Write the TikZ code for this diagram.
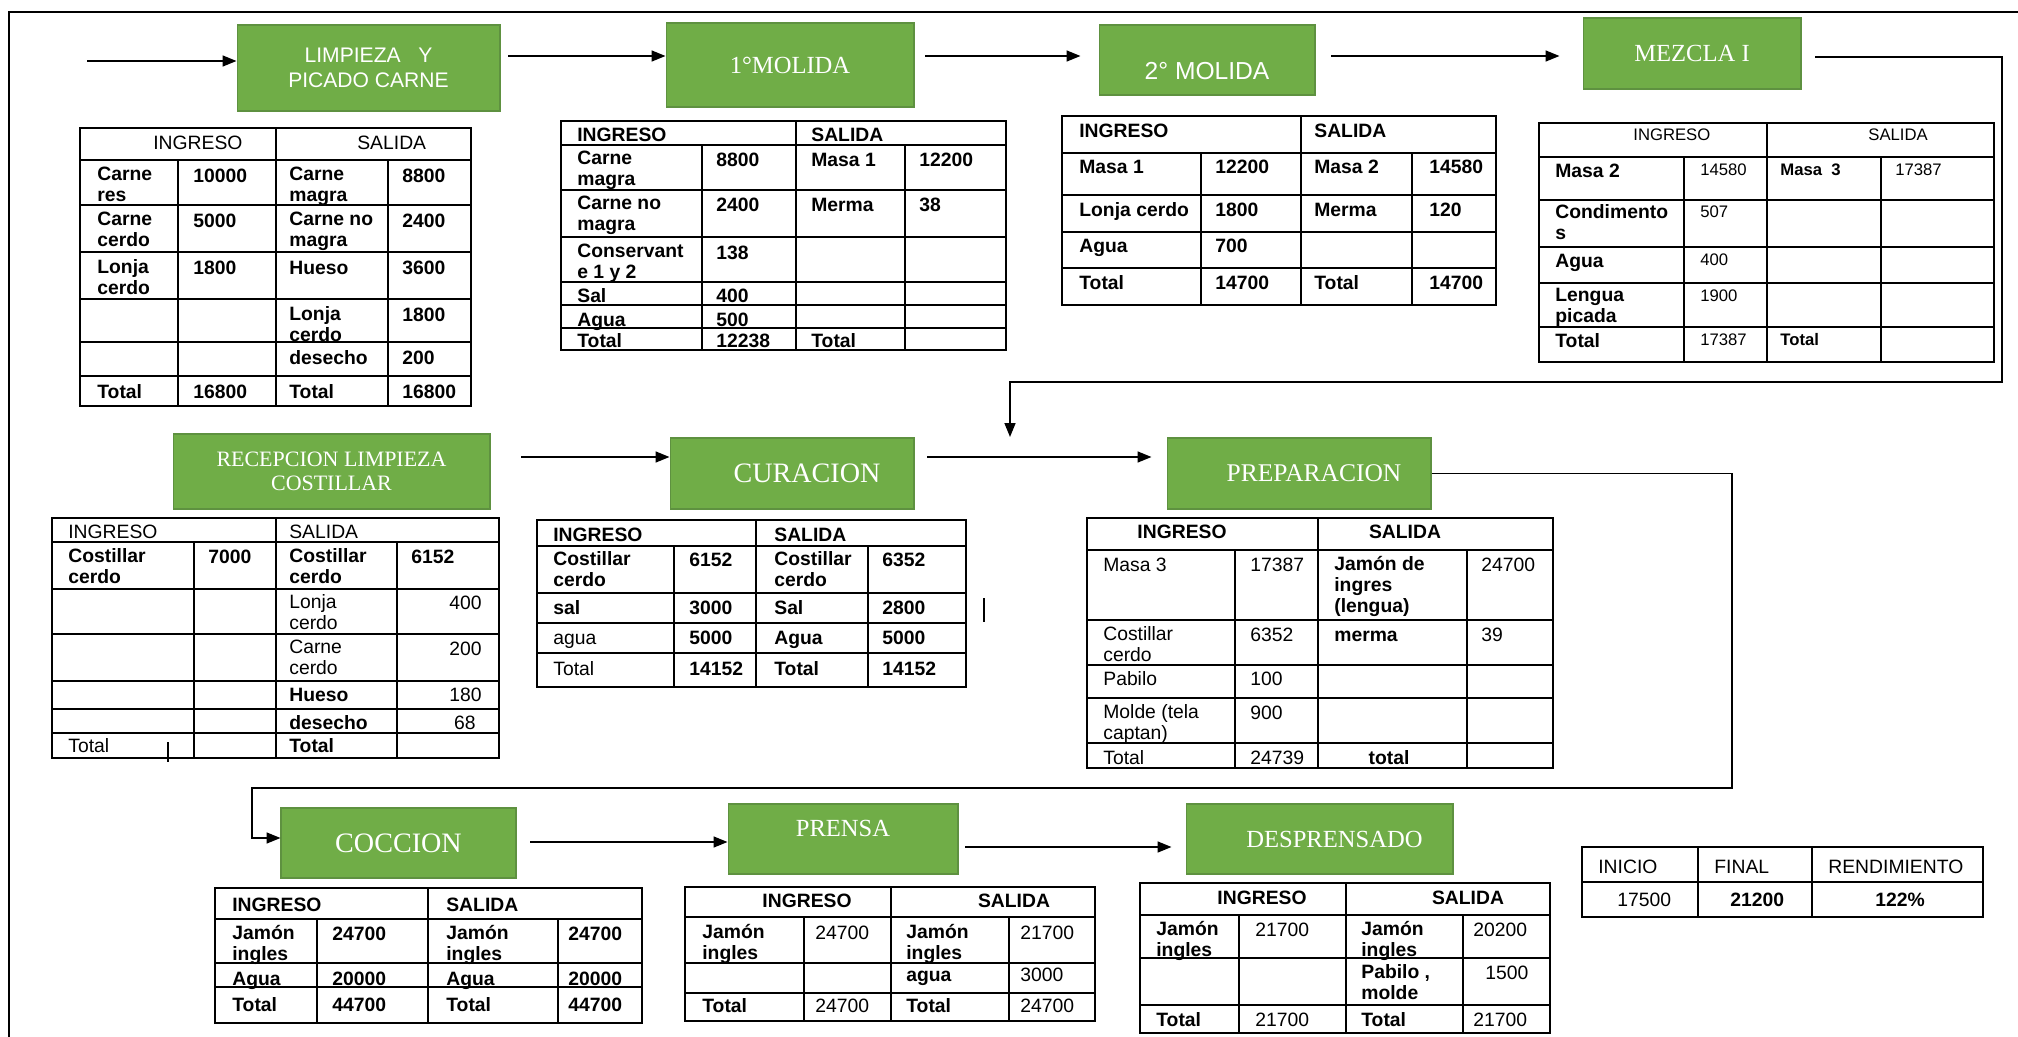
\documentclass[tikz,border=0pt]{standalone}
\usepackage{fontspec}
\setmainfont{Liberation Sans}
\newfontfamily\timesf{Liberation Serif}
\usetikzlibrary{arrows.meta,calc}
\definecolor{stagegreen}{HTML}{70AD47}
\definecolor{stageedge}{HTML}{5E9140}

% balance table: x0..x4 columns, y0 top, y1 header bottom, inner rows, bottom
\newcommand{\iogrid}[9]{%
  \draw[tabline] (#1,#6) rectangle (#5,#9);
  \foreach \yy in {#7,#8} \draw[tabline] (#1,\yy) -- (#5,\yy);
  \draw[tabline] (#3,#6) -- (#3,#9);
  \foreach \xx in {#2,#4} \draw[tabline] (\xx,#7) -- (\xx,#9);
}

\begin{document}
\begin{tikzpicture}[x=0.02cm, y=-0.02cm, >={Triangle[length=0.28cm,width=0.22cm]}]

\tikzstyle{stage}  = [rectangle, draw=stageedge, fill=stagegreen, line width=0.6pt,
                      text=white, inner sep=0pt, align=center]
\tikzstyle{tabline} = [line width=0.9pt]
\tikzstyle{flow}   = [->, line width=0.9pt]
\tikzstyle{txt}    = [anchor=north west, inner sep=0pt, align=left,
                      font=\fontsize{11}{12}\selectfont, execute at begin node=\strut]
\tikzstyle{btx}    = [txt, font=\fontsize{11}{12}\selectfont\bfseries]
\tikzstyle{stx}    = [txt, font=\fontsize{9.5}{11}\selectfont]
\tikzstyle{sbt}    = [txt, font=\fontsize{9.5}{11}\selectfont\bfseries]
\tikzstyle{rtx}    = [txt, anchor=north east]

\fill[white] (0,0) rectangle (2018,1037);
\useasboundingbox (0,0) rectangle (2018,1037);

% ── Frame ─────────────────────────────────────────────
\draw[tabline] (2018,12) -- (9,12) -- (9,1037);

% ── Stages ────────────────────────────────────────────
\node[stage, minimum width=5.26cm, minimum height=1.72cm, font=\fontsize{12}{14.2}\selectfont]
  (limp) at (368.5,68) {LIMPIEZA~~~Y\\PICADO CARNE};
\node[stage, minimum width=4.96cm, minimum height=1.68cm, font=\timesf\fontsize{14}{16}\selectfont]
  (mol1) at (790,65) {1°MOLIDA};
\node[stage, minimum width=4.32cm, minimum height=1.40cm, font=\fontsize{14}{16}\selectfont]
  (mol2) at (1207,60) {\raisebox{-0.22cm}[\height][\depth]{2° MOLIDA}};
\node[stage, minimum width=4.36cm, minimum height=1.42cm, font=\timesf\fontsize{14}{16}\selectfont]
  (mezcla) at (1692,53.5) {MEZCLA I};
\node[stage, minimum width=6.34cm, minimum height=1.50cm, font=\timesf\fontsize{12.5}{13.7}\selectfont]
  (recep) at (331.5,471.5) {RECEPCION LIMPIEZA\\COSTILLAR};
\node[stage, minimum width=4.88cm, minimum height=1.42cm, font=\timesf\fontsize{16}{18}\selectfont]
  (cura) at (792,473.5) {\hspace*{0.6cm}CURACION};
\node[stage, minimum width=5.28cm, minimum height=1.42cm, font=\timesf\fontsize{14.5}{16}\selectfont]
  (prep) at (1299,473.5) {\hspace*{0.6cm}PREPARACION};
\node[stage, minimum width=4.70cm, minimum height=1.40cm, font=\timesf\fontsize{16}{18}\selectfont]
  (cocc) at (398.5,843) {COCCION};
\node[stage, minimum width=4.60cm, minimum height=1.40cm, font=\timesf\fontsize{14}{16}\selectfont]
  (prensa) at (843,839) {\raisebox{0.22cm}[\height][\depth]{PRENSA}};
\node[stage, minimum width=5.34cm, minimum height=1.40cm, font=\timesf\fontsize{14}{16}\selectfont]
  (desp) at (1319.5,839) {\hspace*{0.6cm}DESPRENSADO};

% ── Arrows: first row ─────────────────────────────────
\coordinate (c0) at (87,61);
\coordinate (c1) at (508,56);
\coordinate (c2) at (925,56);
\coordinate (c3) at (1331,56);
\draw[flow] (c0) -- (c0 -| limp.west);
\draw[flow] (c1) -- (c1 -| mol1.west);
\draw[flow] (c2) -- ($(c2 -| mol2.west)+(-18,0)$);
\draw[flow] (c3) -- ($(c3 -| mezcla.west)+(-23,0)$);

% ── Arrows: return to second row ──────────────────────
\coordinate (c4) at (1815,57);
\coordinate (c4e) at (1010,437);
\draw[flow] (c4) -| (2002,382) -| (c4e);
\coordinate (c5) at (521,457);
\coordinate (c6) at (927,457);
\draw[flow] (c5) -- (c5 -| cura.west);
\draw[flow] (c6) -- ($(c6 -| prep.west)+(-15,0)$);

% ── Arrows: third row ─────────────────────────────────
\coordinate (c7) at (252,838);
\coordinate (c8) at (530,842);
\coordinate (c9) at (965,847);
\draw[flow] (prep.east) -| (1732,788) -| (c7) -- (c7 -| cocc.west);
\draw[flow] (c8) -- (c8 -| prensa.west);
\draw[flow] (c9) -- ($(c9 -| desp.west)+(-14,0)$);

% ── Table: limpieza y picado ──────────────────────────
\iogrid{80}{178}{276}{388}{471}{128}{160}{205,252,299,342,376}{406}
\node[txt] (t1h1) at (153,134) {INGRESO};
\node[txt] (t1h2) at (357,134) {SALIDA};
\node[btx] (t1a1) at (97,167)  {Carne\\res};
\node[btx] (t1a2) at (193,167) {10000};
\node[btx] (t1a3) at (289,167) {Carne\\magra};
\node[btx] (t1a4) at (402,167) {8800};
\node[btx] (t1b1) at (97,212)  {Carne\\cerdo};
\node[btx] (t1b2) at (193,212) {5000};
\node[btx] (t1b3) at (289,212) {Carne no\\magra};
\node[btx] (t1b4) at (402,212) {2400};
\node[btx] (t1c1) at (97,259)  {Lonja\\cerdo};
\node[btx] (t1c2) at (193,259) {1800};
\node[btx] (t1c3) at (289,259) {Hueso};
\node[btx] (t1c4) at (402,259) {3600};
\node[btx] (t1d3) at (289,306) {Lonja\\cerdo};
\node[btx] (t1d4) at (402,306) {1800};
\node[btx] (t1e3) at (289,349) {desecho};
\node[btx] (t1e4) at (402,349) {200};
\node[btx] (t1f1) at (97,383)  {Total};
\node[btx] (t1f2) at (193,383) {16800};
\node[btx] (t1f3) at (289,383) {Total};
\node[btx] (t1f4) at (402,383) {16800};

% ── Table: 1° molida ──────────────────────────────────
\iogrid{561}{702}{796}{905}{1006}{121}{145}{190,237,282,305,328}{350}
\node[btx] (t2h1) at (577,126) {INGRESO};
\node[btx] (t2h2) at (811,126) {SALIDA};
\node[btx] (t2a1) at (577,151) {Carne\\magra};
\node[btx] (t2a2) at (716,151) {8800};
\node[btx] (t2a3) at (811,151) {Masa 1};
\node[btx] (t2a4) at (919,151) {12200};
\node[btx] (t2b1) at (577,196) {Carne no\\magra};
\node[btx] (t2b2) at (716,196) {2400};
\node[btx] (t2b3) at (811,196) {Merma};
\node[btx] (t2b4) at (919,196) {38};
\node[btx] (t2c1) at (577,244) {Conservant\\e 1 y 2};
\node[btx] (t2c2) at (716,244) {138};
\node[btx] (t2d1) at (577,287) {Sal};
\node[btx] (t2d2) at (716,287) {400};
\node[btx] (t2e1) at (577,311) {Agua};
\node[btx] (t2e2) at (716,311) {500};
\node[btx] (t2f1) at (577,332) {Total};
\node[btx] (t2f2) at (716,332) {12238};
\node[btx] (t2f3) at (811,332) {Total};

% ── Table: 2° molida ──────────────────────────────────
\iogrid{1062}{1201}{1301}{1412}{1496}{116}{153}{195,232,268}{305}
\node[btx] (t3h1) at (1079,122) {INGRESO};
\node[btx] (t3h2) at (1314,122) {SALIDA};
\node[btx] (t3a1) at (1079,158) {Masa 1};
\node[btx] (t3a2) at (1215,158) {12200};
\node[btx] (t3a3) at (1314,158) {Masa 2};
\node[btx] (t3a4) at (1429,158) {14580};
\node[btx] (t3b1) at (1079,201) {Lonja cerdo};
\node[btx] (t3b2) at (1215,201) {1800};
\node[btx] (t3b3) at (1314,201) {Merma};
\node[btx] (t3b4) at (1429,201) {120};
\node[btx] (t3c1) at (1079,237) {Agua};
\node[btx] (t3c2) at (1215,237) {700};
\node[btx] (t3d1) at (1079,274) {Total};
\node[btx] (t3d2) at (1215,274) {14700};
\node[btx] (t3d3) at (1314,274) {Total};
\node[btx] (t3d4) at (1429,274) {14700};

% ── Table: mezcla I ───────────────────────────────────
\iogrid{1539}{1684}{1767}{1881}{1994}{123}{157}{200,247,283,327}{362}
\node[stx] (t4h1) at (1633,127) {INGRESO};
\node[stx] (t4h2) at (1868,127) {SALIDA};
\node[btx] (t4a1) at (1555,162) {Masa 2};
\node[stx] (t4a2) at (1700,162) {14580};
\node[sbt] (t4a3) at (1780,162) {Masa\ \ 3};
\node[stx] (t4a4) at (1895,162) {17387};
\node[btx] (t4b1) at (1555,204) {Condimento\\s};
\node[stx] (t4b2) at (1700,204) {507};
\node[btx] (t4c1) at (1555,252) {Agua};
\node[stx] (t4c2) at (1700,252) {400};
\node[btx] (t4d1) at (1555,288) {Lengua\\picada};
\node[stx] (t4d2) at (1700,288) {1900};
\node[btx] (t4e1) at (1555,332) {Total};
\node[stx] (t4e2) at (1700,332) {17387};
\node[sbt] (t4e3) at (1780,332) {Total};

% ── Table: recepcion costillar ────────────────────────
\iogrid{52}{194}{276}{397}{499}{518}{542}{589,634,681,709,733}{758}
\node[txt] (t5h1) at (68,523)  {INGRESO};
\node[txt] (t5h2) at (289,523) {SALIDA};
\node[btx] (t5a1) at (68,548)  {Costillar\\cerdo};
\node[btx] (t5a2) at (208,548) {7000};
\node[btx] (t5a3) at (289,548) {Costillar\\cerdo};
\node[btx] (t5a4) at (411,548) {6152};
\node[txt] (t5b3) at (289,594) {Lonja\\cerdo};
\node[rtx] (t5b4) at (482,594) {400};
\node[txt] (t5c3) at (289,640) {Carne\\cerdo};
\node[rtx] (t5c4) at (482,640) {200};
\node[btx] (t5d3) at (289,686) {Hueso};
\node[rtx] (t5d4) at (482,686) {180};
\node[btx] (t5e3) at (289,714) {desecho};
\node[rtx] (t5e4) at (476,714) {68};
\node[txt] (t5f1) at (68,737)  {Total};
\node[btx] (t5f3) at (289,737) {Total};
\draw[tabline] (168,742) -- (168,762);

% ── Table: curacion ───────────────────────────────────
\iogrid{537}{674}{756}{868}{966}{520}{546}{593,623,653}{687}
\node[btx] (t6h1) at (553,526) {INGRESO};
\node[btx] (t6h2) at (774,526) {SALIDA};
\node[btx] (t6a1) at (553,551) {Costillar\\cerdo};
\node[btx] (t6a2) at (689,551) {6152};
\node[btx] (t6a3) at (774,551) {Costillar\\cerdo};
\node[btx] (t6a4) at (882,551) {6352};
\node[btx] (t6b1) at (553,599) {sal};
\node[btx] (t6b2) at (689,599) {3000};
\node[btx] (t6b3) at (774,599) {Sal};
\node[btx] (t6b4) at (882,599) {2800};
\node[txt] (t6c1) at (553,629) {agua};
\node[btx] (t6c2) at (689,629) {5000};
\node[btx] (t6c3) at (774,629) {Agua};
\node[btx] (t6c4) at (882,629) {5000};
\node[txt] (t6d1) at (553,660) {Total};
\node[btx] (t6d2) at (689,660) {14152};
\node[btx] (t6d3) at (774,660) {Total};
\node[btx] (t6d4) at (882,660) {14152};
\draw[tabline] (984,598) -- (984,622);

% ── Table: preparacion ────────────────────────────────
\iogrid{1087}{1235}{1318}{1467}{1553}{518}{550}{620,665,698,743}{768}
\node[btx, anchor=north] (t7h1) at (1182,523) {INGRESO};
\node[btx, anchor=north] (t7h2) at (1405,523) {SALIDA};
\node[txt] (t7a1) at (1103,556) {Masa 3};
\node[txt] (t7a2) at (1250,556) {17387};
\node[btx] (t7a3) at (1334,556) {Jamón de\\ingres\\(lengua)};
\node[txt] (t7a4) at (1481,556) {24700};
\node[txt] (t7b1) at (1103,626) {Costillar\\cerdo};
\node[txt] (t7b2) at (1250,626) {6352};
\node[btx] (t7b3) at (1334,626) {merma};
\node[txt] (t7b4) at (1481,626) {39};
\node[txt] (t7c1) at (1103,670) {Pabilo};
\node[txt] (t7c2) at (1250,670) {100};
\node[txt] (t7d1) at (1103,704) {Molde (tela\\captan)};
\node[txt] (t7d2) at (1250,704) {900};
\node[txt] (t7e1) at (1103,749) {Total};
\node[txt] (t7e2) at (1250,749) {24739};
\node[btx, anchor=north] (t7e3) at (1389,749) {total};

% ── Table: coccion ────────────────────────────────────
\iogrid{215}{317}{428}{558}{642}{888}{919}{963,987}{1023}
\node[btx] (t8h1) at (232,896) {INGRESO};
\node[btx] (t8h2) at (446,896) {SALIDA};
\node[btx] (t8a1) at (232,925) {Jamón\\ingles};
\node[btx] (t8a2) at (332,925) {24700};
\node[btx] (t8a3) at (446,925) {Jamón\\ingles};
\node[btx] (t8a4) at (568,925) {24700};
\node[btx] (t8b1) at (232,970) {Agua};
\node[btx] (t8b2) at (332,970) {20000};
\node[btx] (t8b3) at (446,970) {Agua};
\node[btx] (t8b4) at (568,970) {20000};
\node[btx] (t8c1) at (232,996) {Total};
\node[btx] (t8c2) at (332,996) {44700};
\node[btx] (t8c3) at (446,996) {Total};
\node[btx] (t8c4) at (568,996) {44700};

% ── Table: prensa ─────────────────────────────────────
\iogrid{685}{804}{891}{1009}{1095}{887}{917}{963,993}{1021}
\node[btx, anchor=north] (t9h1) at (807,892)  {INGRESO};
\node[btx, anchor=north] (t9h2) at (1014,892) {SALIDA};
\node[btx] (t9a1) at (702,924)  {Jamón\\ingles};
\node[txt] (t9a2) at (815,924)  {24700};
\node[btx] (t9a3) at (906,924)  {Jamón\\ingles};
\node[txt] (t9a4) at (1020,924) {21700};
\node[btx] (t9b3) at (906,966)  {agua};
\node[txt] (t9b4) at (1020,966) {3000};
\node[btx] (t9c1) at (702,997)  {Total};
\node[txt] (t9c2) at (815,997)  {24700};
\node[btx] (t9c3) at (906,997)  {Total};
\node[txt] (t9c4) at (1020,997) {24700};

% ── Table: desprensado ────────────────────────────────
\iogrid{1140}{1239}{1346}{1463}{1550}{883}{915}{958,1005}{1033}
\node[btx, anchor=north] (t10h1) at (1262,889) {INGRESO};
\node[btx, anchor=north] (t10h2) at (1468,889) {SALIDA};
\node[btx] (t10a1) at (1156,921) {Jamón\\ingles};
\node[txt] (t10a2) at (1255,921) {21700};
\node[btx] (t10a3) at (1361,921) {Jamón\\ingles};
\node[txt] (t10a4) at (1473,921) {20200};
\node[btx] (t10b3) at (1361,964) {Pabilo ,\\molde};
\node[txt] (t10b4) at (1485,964) {1500};
\node[btx] (t10c1) at (1156,1011) {Total};
\node[txt] (t10c2) at (1255,1011) {21700};
\node[btx] (t10c3) at (1361,1011) {Total};
\node[txt] (t10c4) at (1473,1011) {21700};

% ── Table: rendimiento ────────────────────────────────
\draw[tabline] (1582,847) rectangle (1983,917);
\draw[tabline] (1582,882) -- (1983,882);
\foreach \xx in {1698,1812} \draw[tabline] (\xx,847) -- (\xx,917);
\node[txt] (r1) at (1598,858) {INICIO};
\node[txt] (r2) at (1714,858) {FINAL};
\node[txt] (r3) at (1828,858) {RENDIMIENTO};
\node[txt] (r4) at (1617,891) {17500};
\node[btx] (r5) at (1730,891) {21200};
\node[btx] (r6) at (1875,891) {122\%};

\end{tikzpicture}
\end{document}
